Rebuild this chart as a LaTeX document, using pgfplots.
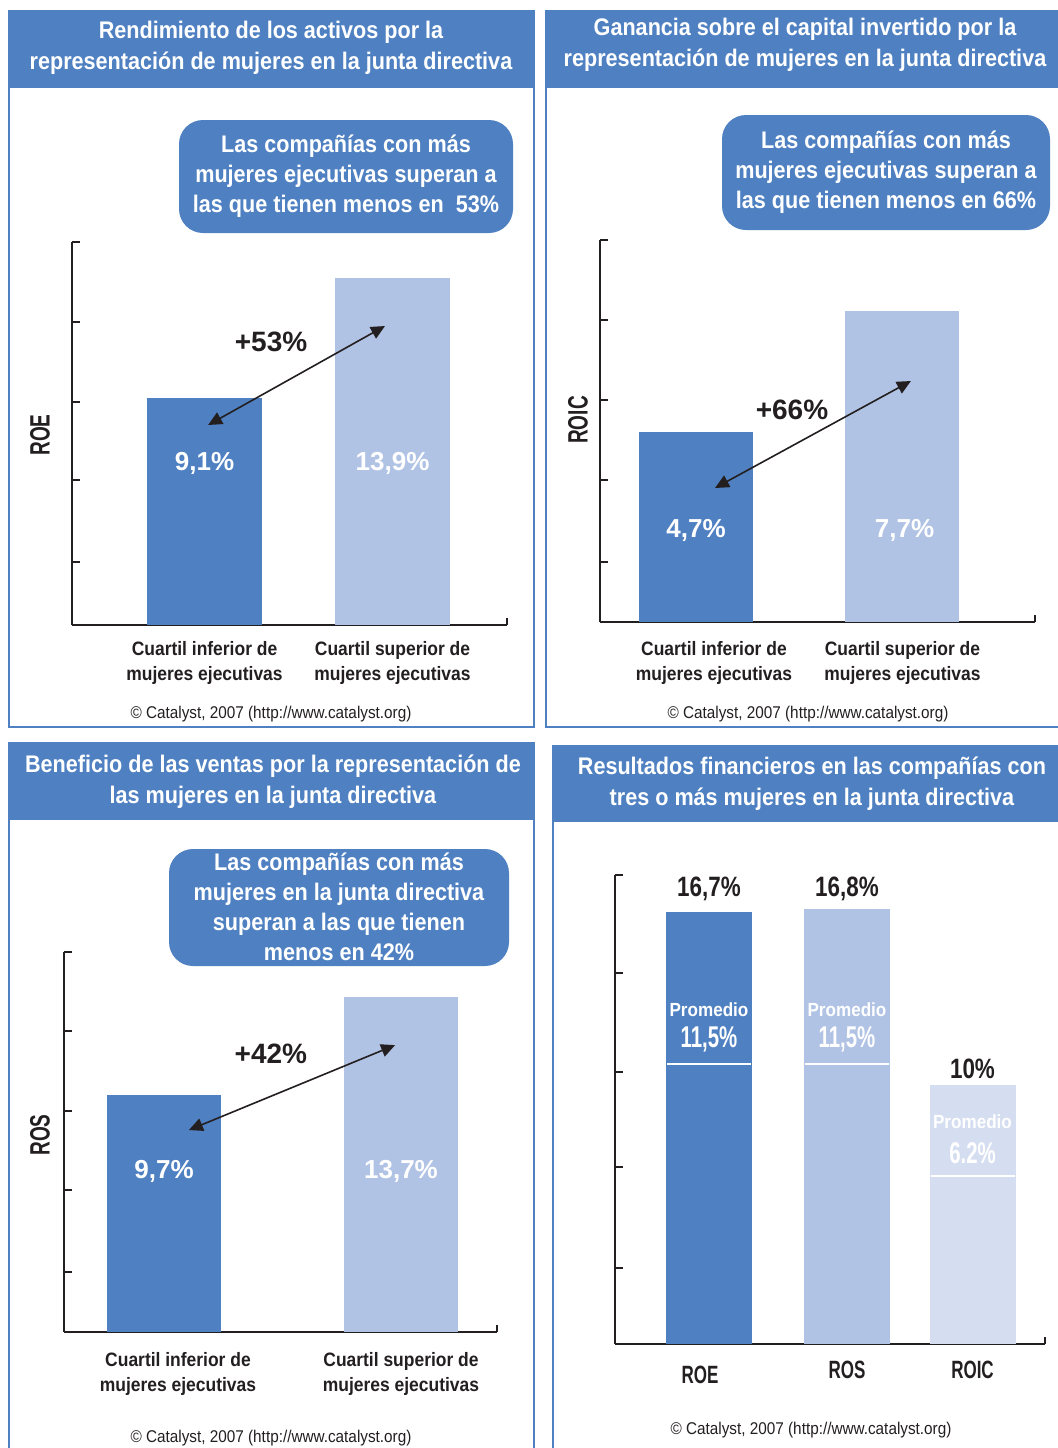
\documentclass[border=0pt]{standalone}
\usepackage{fontspec}
\setmainfont{Liberation Sans}
\newfontfamily\cond{Liberation Sans}[FakeStretch=0.9]
\newfontfamily\semi{Liberation Sans}[FakeStretch=0.8]
\newfontfamily\narrow{Liberation Sans}[FakeStretch=0.68]
\usepackage{pgfplots}
\pgfplotsset{compat=1.18}
\usetikzlibrary{arrows.meta}

\definecolor{cdark}{RGB}{79,129,194}
\definecolor{clight}{RGB}{177,195,228}
\definecolor{clighter}{RGB}{213,222,240}
\definecolor{ink}{RGB}{35,31,32}

\pgfplotsset{
  panel/.style={
    scale only axis, anchor=south west, clip=false,
    axis x line*=bottom, axis y line*=left,
    axis line style={line width=1pt, draw=ink},
    ymin=0, yticklabels={},
    ytick style={line width=1pt, draw=ink},
    major tick length=4pt, tick align=inside,
    xtick style={draw=none},
    xticklabel style={font=\cond\bfseries\fontsize{9.7}{12.5}\selectfont,
      align=center, text=ink, inner sep=0pt, yshift=-8pt},
  },
  bar/.style={ybar, bar width=#1, bar shift=0pt, draw=none},
}
\tikzset{
  title/.style={font=\cond\bfseries\fontsize{12}{15.5}\selectfont, text=white, align=center},
  callout/.style={font=\cond\bfseries\fontsize{12}{15}\selectfont, text=white, align=center},
  copy/.style={font=\cond\fontsize{8.5}{10}\selectfont, text=ink},
  ylab/.style={font=\narrow\bfseries\fontsize{14}{16}\selectfont, text=ink, rotate=90},
  inbar/.style={font=\bfseries\fontsize{13}{15}\selectfont, text=white},
  pct/.style={font=\bfseries\fontsize{14}{16}\selectfont, text=ink},
  dbl/.style={ink, line width=0.8pt, {Triangle[length=7pt,width=6.5pt]}-{Triangle[length=7pt,width=6.5pt]}},
  avg/.style={font=\narrow\bfseries\fontsize{15}{17}\selectfont, text=white},
  prom/.style={font=\cond\bfseries\fontsize{9.5}{11}\selectfont, text=white},
  top/.style={font=\semi\bfseries\fontsize{14}{16}\selectfont, text=ink},
}

\begin{document}
\begin{tikzpicture}[x=0.5pt,y=-0.5pt]
\clip (0,0) rectangle (1058,1448);

% ---------- panel frames and title bands ----------
\draw[cdark, line width=1.2pt] (9,11) rectangle (534,727);
\fill[cdark] (8,10) rectangle (535,88);
\node[title] at (271,47.5) {Rendimiento de los activos por la\\representación de mujeres en la junta directiva};

\draw[cdark, line width=1.2pt] (546,11) rectangle (1075,727);
\fill[cdark] (545,10) rectangle (1075,88);
\node[title] at (805,45) {Ganancia sobre el capital invertido por la\\representación de mujeres en la junta directiva};

\draw[cdark, line width=1.2pt] (9,743) rectangle (534,1470);
\fill[cdark] (8,742) rectangle (535,820);
\node[title] at (273,781.5) {Beneficio de las ventas por la representación de\\las mujeres en la junta directiva};

\draw[cdark, line width=1.2pt] (553,746) rectangle (1075,1470);
\fill[cdark] (552,745) rectangle (1075,822);
\node[title] at (812,784) {Resultados financieros en las compañías con\\tres o más mujeres en la junta directiva};

% ---------- callouts ----------
\fill[cdark, rounded corners=12pt] (179,120) rectangle (513,233);
\node[callout] at (346,176) {Las compañías con más\\mujeres ejecutivas superan a\\las que tienen menos en~~53\%};
\fill[cdark, rounded corners=12pt] (722,115) rectangle (1050,230);
\node[callout] at (886,172) {Las compañías con más\\mujeres ejecutivas superan a\\las que tienen menos en 66\%};
\fill[cdark, rounded corners=12pt] (169,849) rectangle (509,966);
\node[callout] at (339,907) {Las compañías con más\\mujeres en la junta directiva\\superan a las que tienen\\menos en 42\%};

% ---------- y labels and sources ----------
\node[ylab] at (40,435) {ROE};
\node[ylab] at (578,420) {ROIC};
\node[ylab] at (40,1135) {ROS};
\node[copy] at (271,714) {© Catalyst, 2007 (http://www.catalyst.org)};
\node[copy] at (808,714) {© Catalyst, 2007 (http://www.catalyst.org)};
\node[copy] at (271,1438) {© Catalyst, 2007 (http://www.catalyst.org)};
\node[copy] at (811,1430) {© Catalyst, 2007 (http://www.catalyst.org)};

% ---------- ROE ----------
\begin{axis}[panel, at={(36pt,-312.5pt)}, width=217.5pt, height=191.5pt,
  xmin=0.295, xmax=2.609, ymax=15.32, ytick={2.52,5.8,8.92,12.12,15.32},
  xtick={1,2}, xticklabels={{Cuartil inferior de\\mujeres ejecutivas},{Cuartil superior de\\mujeres ejecutivas}}]
\addplot[bar=57.5pt, fill=cdark] coordinates {(1,9.1)};
\addplot[bar=57.5pt, fill=clight] coordinates {(2,13.9)};
\node[inbar] at (axis cs:1,6.48) {9,1\%};
\node[inbar] at (axis cs:2,6.48) {13,9\%};
\draw[dbl] (axis cs:1.019,8.0) -- (axis cs:1.96,11.96);
\node[pct] at (axis cs:1.354,11.32) {+53\%};
\draw[ink, line width=1pt] (rel axis cs:1,0) -- ++(0pt,3.5pt);
\end{axis}

% ---------- ROIC ----------
\begin{axis}[panel, at={(300pt,-311pt)}, width=217.5pt, height=191pt,
  xmin=0.535, xmax=2.642, ymax=9.455, ytick={1.485,3.515,5.495,7.475,9.455},
  xtick={1.087,2}, xticklabels={{Cuartil inferior de\\mujeres ejecutivas},{Cuartil superior de\\mujeres ejecutivas}},
  xticklabel style={yshift=-1.5pt}]
\addplot[bar=57pt, fill=cdark] coordinates {(1,4.7)};
\addplot[bar=57pt, fill=clight] coordinates {(2,7.7)};
\node[inbar] at (axis cs:1,2.277) {4,7\%};
\node[inbar] at (axis cs:2.01,2.277) {7,7\%};
\draw[dbl] (axis cs:1.092,3.317) -- (axis cs:2.041,5.965);
\node[pct] at (axis cs:1.465,5.248) {+66\%};
\draw[ink, line width=1pt] (rel axis cs:1,0) -- ++(0pt,3.5pt);
\end{axis}

% ---------- ROS ----------
\begin{axis}[panel, at={(32pt,-666pt)}, width=216.5pt, height=190pt,
  xmin=0.578, xmax=2.405, ymax=15.55, ytick={2.455,5.81,9.04,12.32,15.55},
  xtick={1.059,2}, xticklabels={{Cuartil inferior de\\mujeres ejecutivas},{Cuartil superior de\\mujeres ejecutivas}},
  xticklabel style={yshift=-2pt}]
\addplot[bar=57pt, fill=cdark] coordinates {(1,9.7)};
\addplot[bar=57pt, fill=clight] coordinates {(2,13.7)};
\node[inbar] at (axis cs:1,6.59) {9,7\%};
\node[inbar] at (axis cs:2,6.59) {13,7\%};
\draw[dbl] (axis cs:1.105,8.265) -- (axis cs:1.975,11.74);
\node[pct] at (axis cs:1.451,11.37) {+42\%};
\draw[ink, line width=1pt] (rel axis cs:1,0) -- ++(0pt,3.5pt);
\end{axis}

% ---------- tres o mas mujeres ----------
\begin{axis}[panel, at={(307.5pt,-672pt)}, width=215pt, height=234.5pt,
  xmin=0, xmax=430, ymax=18.11, ytick={2.934,6.834,10.5,14.32,18.11},
  xtick={85,232,357.5}, xticklabels={\raisebox{-2.5pt}[\height][\depth]{ROE},ROS,ROIC},
  xticklabel style={font=\narrow\bfseries\fontsize{12.5}{14}\selectfont, yshift=-0.5pt}]
\addplot[bar=43pt, fill=cdark] coordinates {(94,16.7)};
\addplot[bar=43pt, fill=clight] coordinates {(232,16.8)};
\addplot[bar=43pt, fill=clighter] coordinates {(357.5,10)};
% promedio lines
\addplot[white, line width=1pt] coordinates {(52,10.81) (136,10.81)};
\addplot[white, line width=1pt] coordinates {(190,10.81) (274,10.81)};
\addplot[white, line width=1pt] coordinates {(315.5,6.49) (399.5,6.49)};
\node[top] at (axis cs:94,17.57) {16,7\%};
\node[top] at (axis cs:232,17.57) {16,8\%};
\node[top] at (axis cs:357.5,10.62) {10\%};
\node[prom] at (axis cs:94,12.9) {Promedio};
\node[avg] at (axis cs:94,11.78) {11,5\%};
\node[prom] at (axis cs:232,12.9) {Promedio};
\node[avg] at (axis cs:232,11.78) {11,5\%};
\node[prom] at (axis cs:357.5,8.57) {Promedio};
\node[avg] at (axis cs:357.5,7.37) {6.2\%};
\draw[ink, line width=1pt] (rel axis cs:1,0) -- ++(0pt,3.5pt);
\end{axis}
\end{tikzpicture}
\end{document}
